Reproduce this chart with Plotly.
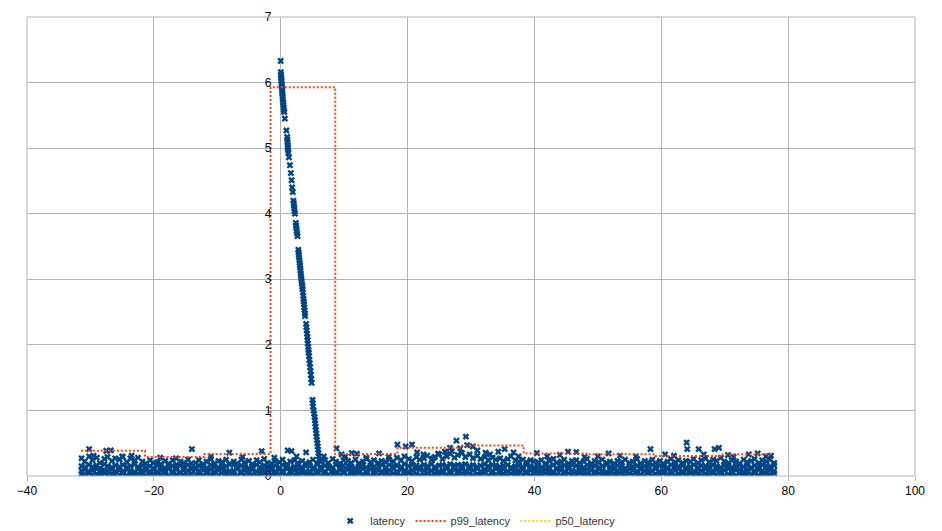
import plotly.graph_objects as go

# ---- latency: dense band of samples (x in tenths, y in hundredths) ----
band_x_t = [
    -314, -309, -302, -297, -290, -285, -278, -273, -266, -261,
    -254, -249, -242, -237, -230, -225, -218, -213, -206, -201,
    -194, -189, -182, -177, -170, -165, -158, -153, -146, -141,
    -134, -129, -122, -117, -110, -105, -98, -93, -86, -81,
    -74, -69, -62, -57, -50, -45, -38, -33, -26, -21,
    -14, -9, -2, 3, 10, 15, 22, 27, 34, 39,
    46, 51, 58, 63, 70, 75, 82, 87, 94, 99,
    106, 111, 118, 123, 130, 135, 142, 147, 154, 159,
    166, 171, 178, 183, 190, 195, 202, 207, 214, 219,
    226, 231, 238, 243, 250, 255, 262, 267, 274, 279,
    286, 291, 298, 303, 310, 315, 322, 327, 334, 339,
    346, 351, 358, 363, 370, 375, 382, 387, 394, 399,
    406, 411, 418, 423, 430, 435, 442, 447, 454, 459,
    466, 471, 478, 483, 490, 495, 502, 507, 514, 519,
    526, 531, 538, 543, 550, 555, 562, 567, 574, 579,
    586, 591, 598, 603, 610, 615, 622, 627, 634, 639,
    646, 651, 658, 663, 670, 675, 682, 687, 694, 699,
    706, 711, 718, 723, 730, 735, 742, 747, 754, 759,
    766, 771, 778,
]
band_low = [
    3, 2, 4, 2, 3, 1, 4, 2, 3, 2,
    2, 4, 1, 3, 2, 4, 3, 1, 2, 3,
    4, 2, 3, 1, 3, 2, 4, 2, 1, 3,
    2, 3, 1, 4, 2, 3, 2, 4, 3, 1,
    3, 1, 4, 2, 3, 2, 1, 3, 4, 2,
    2, 3, 2, 4, 1, 3, 2, 3, 4, 2,
    3, 2, 4, 1, 3, 2, 3, 1, 2, 4,
    1, 3, 2, 4, 2, 3, 1, 3, 2, 4,
    3, 2, 4, 2, 1, 3, 4, 2, 3, 1,
    2, 4, 1, 3, 2, 4, 2, 3, 1, 3,
    4, 2, 3, 1, 3, 2, 4, 1, 3, 2,
    2, 3, 1, 4, 2, 3, 2, 4, 1, 3,
    3, 1, 4, 2, 3, 2, 1, 3, 4, 2,
    2, 4, 2, 3, 1, 3, 4, 2, 2, 3,
    3, 2, 3, 1, 4, 2, 3, 2, 1, 4,
    1, 3, 2, 4, 2, 3, 1, 3, 4, 2,
    4, 2, 3, 1, 3, 2, 4, 2, 3, 1,
    2, 3, 1, 4, 2, 3, 2, 4, 1, 3,
    3, 2, 4,
]
band_mid = [
    8, 10, 7, 9, 11, 6, 9, 8, 10, 7,
    9, 7, 10, 8, 6, 11, 8, 9, 7, 10,
    7, 9, 8, 11, 7, 10, 6, 9, 8, 10,
    10, 8, 9, 6, 10, 7, 9, 11, 8, 7,
    8, 11, 7, 9, 8, 10, 7, 8, 9, 11,
    9, 7, 10, 8, 11, 7, 9, 10, 8, 6,
    7, 10, 8, 9, 7, 11, 8, 6, 10, 9,
    10, 8, 6, 9, 11, 7, 10, 8, 9, 7,
    8, 9, 11, 7, 10, 8, 7, 9, 11, 10,
    9, 11, 8, 10, 7, 9, 11, 8, 10, 9,
    11, 8, 10, 9, 11, 7, 10, 9, 8, 11,
    8, 10, 7, 11, 9, 8, 10, 7, 9, 10,
    9, 7, 10, 8, 6, 10, 9, 7, 11, 8,
    7, 9, 8, 10, 9, 7, 11, 8, 6, 9,
    10, 8, 9, 7, 11, 9, 7, 10, 8, 9,
    8, 11, 7, 9, 10, 8, 9, 11, 7, 10,
    9, 7, 10, 8, 11, 9, 8, 10, 7, 9,
    11, 8, 9, 10, 7, 9, 11, 8, 10, 8,
    9, 10, 8,
]
band_up = [
    15, 13, 17, 14, 16, 12, 18, 15, 13, 16,
    14, 17, 13, 15, 18, 14, 16, 13, 15, 12,
    16, 14, 12, 17, 15, 13, 16, 14, 17, 13,
    13, 16, 15, 12, 17, 14, 13, 16, 15, 18,
    17, 13, 16, 14, 12, 15, 17, 13, 16, 14,
    14, 16, 13, 17, 15, 12, 14, 16, 13, 15,
    15, 13, 17, 14, 16, 15, 13, 17, 14, 16,
    16, 14, 12, 15, 17, 13, 16, 14, 15, 17,
    13, 17, 15, 16, 14, 18, 15, 17, 16, 14,
    17, 15, 18, 14, 16, 17, 15, 18, 16, 17,
    16, 18, 15, 17, 14, 16, 18, 15, 17, 16,
    14, 16, 17, 13, 15, 16, 14, 17, 15, 13,
    15, 13, 16, 14, 17, 12, 15, 16, 14, 17,
    16, 14, 13, 17, 15, 16, 13, 15, 17, 14,
    13, 16, 15, 12, 17, 14, 16, 13, 15, 16,
    17, 14, 16, 15, 13, 17, 15, 14, 16, 13,
    14, 17, 13, 16, 15, 14, 17, 15, 13, 16,
    16, 13, 15, 17, 14, 16, 13, 16, 15, 17,
    15, 14, 16,
]
band_top = [
    27, 22, 30, 24, 28, 20, 26, 29, 23, 27,
    25, 29, 21, 27, 24, 28, 22, 19, 24, 20,
    21, 18, 23, 19, 24, 17, 22, 20, 25, 19,
    20, 24, 18, 22, 26, 19, 23, 21, 25, 18,
    22, 19, 25, 20, 23, 18, 24, 21, 26, 20,
    19, 23, 21, 25, 18, 22, 24, 20, 23, 19,
    21, 25, 19, 22, 24, 20, 26, 22, 19, 24,
    23, 20, 25, 19, 22, 26, 21, 24, 20, 23,
    21, 25, 22, 28, 24, 30, 26, 23, 29, 25,
    27, 31, 25, 29, 33, 26, 30, 34, 28, 32,
    35, 29, 33, 27, 31, 26, 29, 24, 28, 25,
    27, 23, 26, 30, 24, 22, 25, 21, 24, 22,
    21, 24, 19, 23, 26, 20, 22, 25, 19, 23,
    24, 20, 22, 26, 19, 23, 21, 25, 20, 22,
    19, 23, 21, 25, 20, 22, 26, 19, 23, 21,
    25, 20, 23, 19, 22, 26, 21, 24, 20, 23,
    22, 26, 20, 24, 27, 21, 25, 23, 28, 22,
    20, 24, 22, 19, 25, 21, 23, 26, 20, 24,
    22, 25, 20,
]

# ---- latency: sparse higher samples ----
out_x = [
    -30.2, -27.5, -26.8, -14.0, -8.1, -3.0, 1.1, 1.7, 4.0, 8.8,
    9.6, 11.2, 12.0, 15.5, 18.4, 19.7, 20.7, 24.0, 25.9, 26.7,
    27.7, 29.2, 29.4, 30.3, 32.3, 34.3, 35.3, 36.7, 40.4, 45.3,
    46.6, 47.9, 51.7, 58.3, 60.6, 64.0, 64.1, 65.9, 68.4, 69.1,
    71.4, 73.8, 75.2,
    -29.5, -25.0, -23.5, -19.0, -16.5, -11.0, -6.0, -1.0, 2.5, 6.8,
    10.2, 13.5, 17.0, 21.5, 22.5, 24.8, 27.0, 28.3, 31.0, 33.0,
    37.5, 42.0, 44.0, 50.0, 53.5, 56.0, 62.0, 66.7, 70.5, 76.5,
    77.3,
]
out_y = [
    0.41, 0.385, 0.39, 0.41, 0.355, 0.38, 0.39, 0.38, 0.36, 0.42,
    0.33, 0.35, 0.34, 0.345, 0.48, 0.45, 0.48, 0.27, 0.37, 0.43,
    0.54, 0.60, 0.47, 0.45, 0.355, 0.37, 0.41, 0.36, 0.35, 0.37,
    0.365, 0.29, 0.345, 0.41, 0.33, 0.51, 0.41, 0.41, 0.41, 0.43,
    0.29, 0.33, 0.345,
    0.31, 0.30, 0.31, 0.28, 0.27, 0.30, 0.29, 0.28, 0.30, 0.30,
    0.30, 0.28, 0.29, 0.36, 0.33, 0.34, 0.38, 0.42, 0.39, 0.33,
    0.30, 0.30, 0.32, 0.30, 0.31, 0.30, 0.31, 0.33, 0.32, 0.30,
    0.31,
]

# ---- latency: the spike after x = 0 ----
spike_x = [
    0.00, 0.02, 0.05, 0.07, 0.10, 0.12, 0.15, 0.18, 0.20, 0.22,
    0.25, 0.28, 0.30, 0.34, 0.38, 0.42, 0.46, 0.50, 0.55, 0.65,
    0.90, 1.02, 1.05, 1.08, 1.10, 1.13, 1.16, 1.20, 1.30, 1.45,
    1.60, 1.72, 1.80, 1.90, 2.00, 2.05, 2.10, 2.14, 2.18, 2.25,
    2.38, 2.42, 2.47, 2.52, 2.58, 2.65, 2.78, 2.82, 2.86, 2.90,
    2.95, 3.00, 3.04, 3.08, 3.12, 3.16, 3.20, 3.25, 3.30, 3.35,
    3.40, 3.45, 3.50, 3.55, 3.60, 3.64, 3.68, 3.72, 3.76, 3.80,
    3.84, 4.00, 4.05, 4.10, 4.15, 4.20, 4.24, 4.28, 4.33, 4.38,
    4.42, 4.47, 4.52, 4.58, 4.64, 4.70, 4.76, 4.82, 4.88, 5.02,
    5.06, 5.10, 5.18, 5.26, 5.34, 5.40, 5.45, 5.50, 5.55, 5.60,
    5.66, 5.72, 5.78, 5.84, 5.90, 5.96, 6.02, 6.08,
]
spike_y = [
    6.33, 6.16, 6.12, 6.08, 6.05, 6.02, 5.98, 5.95, 5.92, 5.88,
    5.85, 5.82, 5.78, 5.74, 5.70, 5.66, 5.62, 5.58, 5.55, 5.45,
    5.27, 5.17, 5.13, 5.09, 5.05, 5.01, 4.97, 4.93, 4.86, 4.74,
    4.62, 4.51, 4.40, 4.33, 4.20, 4.16, 4.12, 4.08, 4.04, 4.00,
    3.86, 3.82, 3.78, 3.74, 3.70, 3.66, 3.45, 3.41, 3.37, 3.33,
    3.29, 3.25, 3.21, 3.17, 3.13, 3.09, 3.05, 3.01, 2.97, 2.93,
    2.89, 2.85, 2.80, 2.75, 2.70, 2.66, 2.62, 2.57, 2.53, 2.48,
    2.44, 2.32, 2.27, 2.22, 2.17, 2.12, 2.07, 2.02, 1.97, 1.92,
    1.88, 1.83, 1.77, 1.72, 1.66, 1.60, 1.54, 1.48, 1.42, 1.16,
    1.11, 1.06, 1.00, 0.95, 0.90, 0.85, 0.80, 0.75, 0.70, 0.65,
    0.60, 0.55, 0.50, 0.45, 0.40, 0.35, 0.30, 0.25,
]

# ---- percentile step lines ----
p99_x = [-31.5, -21.4, -12.0, -1.6, 8.6, 18.4, 28.6, 38.3, 48.2, 59.1, 69.7, 77.6]
p99_y = [0.386, 0.29, 0.335, 5.93, 0.335, 0.43, 0.465, 0.345, 0.33, 0.305, 0.33, 0.33]
p50_x = [-31.5, -21.4, -12.0, -1.6, 8.6, 18.4, 28.6, 38.3, 48.2, 59.1, 69.7, 77.6]
p50_y = [0.09, 0.08, 0.08, 0.09, 0.08, 0.08, 0.09, 0.08, 0.07, 0.07, 0.07, 0.07]

x_ticks = [-40, -20, 0, 20, 40, 60, 80, 100]
y_ticks = [0, 1, 2, 3, 4, 5, 6, 7]

# ---- assemble latency series ----
band_x = [v / 10 for v in band_x_t]
lat_x, lat_y = [], []
for row in (band_low, band_mid, band_up, band_top):
    assert len(row) == len(band_x)
    lat_x += band_x
    lat_y += [v / 100 for v in row]
assert len(out_x) == len(out_y) and len(spike_x) == len(spike_y)
lat_x += out_x + spike_x
lat_y += out_y + spike_y

FONT = "Liberation Sans, Arial, sans-serif"
GRID = "#b3b3b3"

fig = go.Figure()
fig.add_trace(go.Scatter(
    x=p50_x, y=p50_y, name="p50_latency", mode="lines", line_shape="hv",
    line=dict(color="#ffd320", width=2, dash="2px,2px"), legendrank=3,
))
fig.add_trace(go.Scatter(
    x=lat_x, y=lat_y, name="latency", mode="markers",
    marker=dict(symbol="x", size=6, color="#004586", line=dict(width=0)),
    legendrank=1,
))
fig.add_trace(go.Scatter(
    x=p99_x, y=p99_y, name="p99_latency", mode="lines", line_shape="hv",
    line=dict(color="#ff420e", width=2, dash="2px,2px"), legendrank=2,
))

fig.update_layout(
    width=942, height=531,
    margin=dict(l=27, r=27, t=17, b=55, autoexpand=False),
    paper_bgcolor="white", plot_bgcolor="white",
    font=dict(family=FONT, size=12, color="#000000"),
    showlegend=True,
    legend=dict(orientation="h", xref="container", yref="container",
                x=0.505, xanchor="center", y=0.019, yanchor="middle",
                font=dict(size=11, color="#333333"), bgcolor="rgba(0,0,0,0)"),
    xaxis=dict(range=[-40, 100], tickvals=x_ticks, showgrid=True, gridcolor=GRID,
               gridwidth=1, zeroline=False, ticks="outside", ticklen=4, tickcolor=GRID,
               showline=False, tickfont=dict(size=12), automargin=False),
    yaxis=dict(range=[0, 7], tickvals=y_ticks, showgrid=True, gridcolor=GRID, gridwidth=1,
               zeroline=False, anchor="free", position=40 / 140, showline=False,
               ticks="outside", ticklen=7, tickcolor="rgba(0,0,0,0)",
               tickfont=dict(size=12), automargin=False),
    shapes=[dict(type="rect", xref="paper", yref="paper", x0=0, x1=1, y0=0, y1=1,
                 line=dict(color=GRID, width=1), layer="above")],
)

fig.write_html("out.html", config={"displayModeBar": False},
               post_script="document.body.style.margin='0';")
